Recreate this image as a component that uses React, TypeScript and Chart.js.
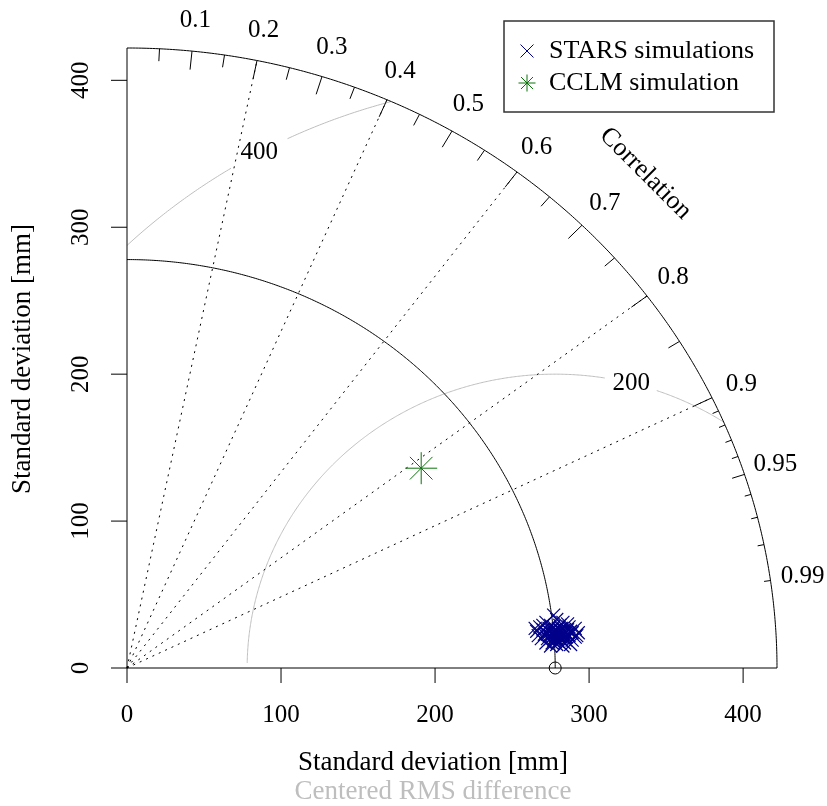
import React, { useEffect, useRef } from "react";
import { Chart, registerables } from "chart.js";

Chart.register(...registerables);

// ---- data ----
const maxSd = 422; // outer radius of the diagram (standard deviation, mm)
const refSd = 278; // observed (reference) standard deviation, mm
const xTicks = [0, 100, 200, 300, 400];
const yTicks = [0, 100, 200, 300, 400];
const corMajor = [0.1, 0.2, 0.3, 0.4, 0.5, 0.6, 0.7, 0.8, 0.9];
const corMedium = [0.05, 0.15, 0.25, 0.35, 0.45, 0.55, 0.65, 0.75, 0.85, 0.95];
const corMinor = [0.91, 0.92, 0.93, 0.94, 0.96, 0.97, 0.98, 0.99];
const corLabels = ["0.1", "0.2", "0.3", "0.4", "0.5", "0.6", "0.7", "0.8", "0.9", "0.95", "0.99"];
const corRays = [0.2, 0.4, 0.6, 0.8, 0.9];
const rmsLevels = [200, 400];

const starsX = [277, 279, 272, 283, 268, 275, 281, 287, 291, 266, 270, 274, 278, 282, 286, 289, 293, 267, 271, 275, 279, 283, 287, 291, 269, 273, 277, 281, 285, 289, 272, 276, 280, 284, 288, 278, 280, 276, 282, 274, 284, 270, 286, 279, 283, 275, 288, 265, 292, 277, 281, 285, 273, 279, 278, 280, 282, 284, 276, 274, 279, 281, 283, 277, 285, 275, 280, 278, 286, 272, 282, 276, 284, 280];
const starsY = [36, 33, 31, 31, 28, 29, 29, 28, 27, 25, 26, 25, 26, 25, 26, 24, 24, 22, 23, 22, 23, 22, 22, 21, 20, 20, 19, 20, 19, 19, 17, 17, 18, 17, 16, 21, 24, 24, 27, 27, 23, 29, 30, 16, 15, 15, 25, 27, 22, 28, 21, 24, 23, 20, 22, 22, 21, 21, 23, 22, 25, 26, 24, 20, 21, 20, 27, 24, 23, 24, 19, 26, 26, 18];
const cclmX = [191];
const cclmY = [136];

const seriesNames = ["STARS simulations", "CCLM simulation"];
const xTitle = "Standard deviation [mm]";
const yTitle = "Standard deviation [mm]";
const rmsTitle = "Centered RMS difference";
const corTitle = "Correlation";

const BLUE = "#00008B";
const GREEN = "#0a730a";
const GRAY = "#bebebe";
const FONT = '"Liberation Serif", "Times New Roman", serif';

const taylorPlugin = {
  id: "taylor",
  beforeDatasetsDraw(chart: any) {
    const ctx: CanvasRenderingContext2D = chart.ctx;
    const xs = chart.scales.x;
    const ys = chart.scales.y;
    const P = (x: number, y: number): [number, number] => [xs.getPixelForValue(x), ys.getPixelForValue(y)];
    const D2R = Math.PI / 180;
    ctx.save();

    // RMS contours (gray)
    const labelAng: Record<number, number> = { 200: 75.7, 400: 118.7 };
    const gapAng: Record<number, number> = { 200: 4.8, 400: 2.8 };
    ctx.strokeStyle = GRAY;
    ctx.lineWidth = 1;
    rmsLevels.forEach((r) => {
      ctx.beginPath();
      let drawing = false;
      for (let a = 0; a <= 179; a += 0.25) {
        const x = refSd + r * Math.cos(a * D2R);
        const y = r * Math.sin(a * D2R);
        const ok = x >= 0 && Math.hypot(x, y) <= maxSd && Math.abs(a - labelAng[r]) > gapAng[r];
        if (ok) {
          const [X, Y] = P(x, y);
          if (!drawing) { ctx.moveTo(X, Y); drawing = true; } else ctx.lineTo(X, Y);
        } else drawing = false;
      }
      ctx.stroke();
      const la = labelAng[r] * D2R;
      const [LX, LY] = P(refSd + r * Math.cos(la), r * Math.sin(la));
      ctx.fillStyle = "#000";
      ctx.font = `25px ${FONT}`;
      ctx.textAlign = "center";
      ctx.textBaseline = "middle";
      ctx.fillText(String(r), LX, LY);
    });

    // correlation rays (dotted)
    ctx.strokeStyle = "#000";
    ctx.lineWidth = 1;
    ctx.setLineDash([2, 5]);
    corRays.forEach((c) => {
      const [X0, Y0] = P(0, 0);
      const [X1, Y1] = P(maxSd * c, maxSd * Math.sqrt(1 - c * c));
      ctx.beginPath();
      ctx.moveTo(X0, Y0);
      ctx.lineTo(X1, Y1);
      ctx.stroke();
    });
    ctx.setLineDash([]);

    // arcs
    const arc = (r: number) => {
      ctx.beginPath();
      for (let a = 0; a <= 90; a += 0.25) {
        const [X, Y] = P(r * Math.cos(a * D2R), r * Math.sin(a * D2R));
        if (a === 0) ctx.moveTo(X, Y); else ctx.lineTo(X, Y);
      }
      ctx.stroke();
    };
    arc(refSd);
    arc(maxSd);

    // correlation ticks
    const tick = (c: number, f: number) => {
      const s = Math.sqrt(1 - c * c);
      const [X0, Y0] = P(maxSd * c, maxSd * s);
      const [X1, Y1] = P(maxSd * f * c, maxSd * f * s);
      ctx.beginPath();
      ctx.moveTo(X0, Y0);
      ctx.lineTo(X1, Y1);
      ctx.stroke();
    };
    corMajor.forEach((c) => tick(c, 0.97));
    corMedium.forEach((c) => tick(c, 0.98));
    corMinor.forEach((c) => tick(c, 0.99));

    // correlation labels
    ctx.fillStyle = "#000";
    ctx.font = `25px ${FONT}`;
    ctx.textAlign = "center";
    ctx.textBaseline = "middle";
    corLabels.forEach((t) => {
      const c = parseFloat(t);
      const [X, Y] = P(maxSd * 1.05 * c, maxSd * 1.05 * Math.sqrt(1 - c * c));
      ctx.fillText(t, X, Y);
    });
    {
      const [X, Y] = P(maxSd * 1.128 * Math.SQRT1_2, maxSd * 1.128 * Math.SQRT1_2);
      ctx.save();
      ctx.translate(X, Y);
      ctx.rotate(Math.PI / 4);
      ctx.font = `26px ${FONT}`;
      ctx.fillText(corTitle, 0, 0);
      ctx.restore();
    }

    // axes
    const [OX, OY] = P(0, 0);
    const [RX] = P(maxSd, 0);
    const [, TY] = P(0, maxSd);
    ctx.beginPath();
    ctx.moveTo(OX, OY);
    ctx.lineTo(RX, OY);
    ctx.moveTo(OX, OY);
    ctx.lineTo(OX, TY);
    ctx.stroke();
    ctx.font = `25px ${FONT}`;
    xTicks.forEach((v) => {
      const X = xs.getPixelForValue(v);
      ctx.beginPath();
      ctx.moveTo(X, OY);
      ctx.lineTo(X, OY + 15);
      ctx.stroke();
      ctx.fillText(String(v), X, OY + 47);
    });
    yTicks.forEach((v) => {
      const Y = ys.getPixelForValue(v);
      ctx.beginPath();
      ctx.moveTo(OX, Y);
      ctx.lineTo(OX - 16, Y);
      ctx.stroke();
      ctx.save();
      ctx.translate(OX - 45.5, Y);
      ctx.rotate(-Math.PI / 2);
      ctx.fillText(String(v), 0, 0);
      ctx.restore();
    });

    // titles
    ctx.font = `27px ${FONT}`;
    ctx.fillText(xTitle, 433, 763);
    ctx.fillStyle = GRAY;
    ctx.fillText(rmsTitle, 433, 792);
    ctx.fillStyle = "#000";
    ctx.save();
    ctx.translate(23, 359);
    ctx.rotate(-Math.PI / 2);
    ctx.fillText(yTitle, 0, 0);
    ctx.restore();

    ctx.restore();
  },
  afterDraw(chart: any) {
    const ctx: CanvasRenderingContext2D = chart.ctx;
    ctx.save();
    // legend box
    ctx.strokeStyle = "#333";
    ctx.lineWidth = 1.5;
    ctx.strokeRect(504, 21, 270, 91);
    // markers
    const mx = 527;
    const y1 = 51;
    const y2 = 83;
    ctx.lineWidth = 1;
    ctx.strokeStyle = BLUE;
    ctx.beginPath();
    ctx.moveTo(mx - 6.5, y1 - 6.5); ctx.lineTo(mx + 6.5, y1 + 6.5);
    ctx.moveTo(mx - 6.5, y1 + 6.5); ctx.lineTo(mx + 6.5, y1 - 6.5);
    ctx.stroke();
    ctx.strokeStyle = GREEN;
    ctx.beginPath();
    const a = 8.5, d = 6;
    ctx.moveTo(mx - a, y2); ctx.lineTo(mx + a, y2);
    ctx.moveTo(mx, y2 - a); ctx.lineTo(mx, y2 + a);
    ctx.moveTo(mx - d, y2 - d); ctx.lineTo(mx + d, y2 + d);
    ctx.moveTo(mx - d, y2 + d); ctx.lineTo(mx + d, y2 - d);
    ctx.stroke();
    ctx.fillStyle = "#000";
    ctx.font = `26px ${FONT}`;
    ctx.textAlign = "left";
    ctx.textBaseline = "middle";
    ctx.fillText(seriesNames[0], 549, y1);
    ctx.fillText(seriesNames[1], 549, y2);
    ctx.restore();
  },
};

export default function App() {
  const ref = useRef<HTMLCanvasElement | null>(null);
  useEffect(() => {
    if (!ref.current) return;
    const chart = new Chart(ref.current, {
      type: "scatter",
      data: {
        datasets: [
          {
            label: "Reference",
            data: [{ x: refSd, y: 0 }],
            pointStyle: "circle",
            pointRadius: 6,
            borderColor: "#000",
            backgroundColor: "rgba(0,0,0,0)",
            borderWidth: 1,
            clip: false as any,
          },
          {
            label: seriesNames[0],
            data: starsX.map((x, i) => ({ x, y: starsY[i] })),
            pointStyle: "crossRot",
            pointRadius: 9.2,
            borderColor: BLUE,
            backgroundColor: BLUE,
            borderWidth: 1.2,
            clip: false as any,
          },
          {
            label: seriesNames[1],
            data: cclmX.map((x, i) => ({ x, y: cclmY[i] })),
            pointStyle: "star",
            pointRadius: 16,
            borderColor: GREEN,
            backgroundColor: GREEN,
            borderWidth: 1,
            clip: false as any,
          },
        ],
      },
      options: {
        responsive: false,
        maintainAspectRatio: false,
        devicePixelRatio: 1,
        animation: false,
        events: [],
        layout: { padding: { left: 127, right: 50, top: 48, bottom: 138 } },
        scales: {
          x: { type: "linear", min: 0, max: maxSd, display: false },
          y: { type: "linear", min: 0, max: maxSd, display: false },
        },
        plugins: { legend: { display: false }, tooltip: { enabled: false } },
      },
      plugins: [taylorPlugin],
    });
    return () => chart.destroy();
  }, []);
  return (
    <div style={{ position: "absolute", left: 0, top: 0, width: 827, height: 806, background: "#fff" }}>
      <canvas ref={ref} width={827} height={806} style={{ display: "block" }} />
    </div>
  );
}
